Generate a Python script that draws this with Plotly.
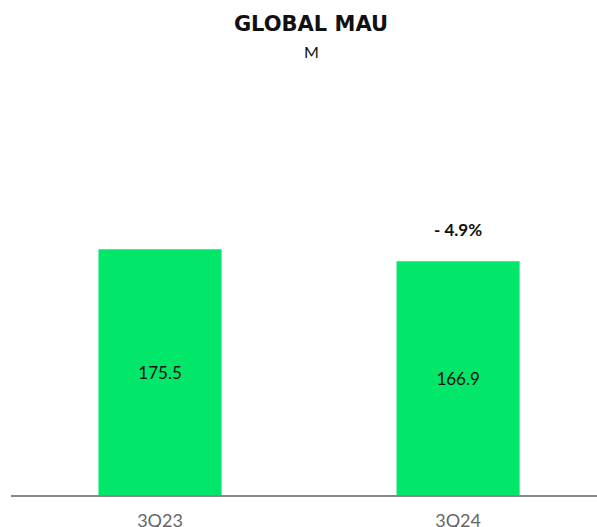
import plotly.graph_objects as go

categories = ["3Q23", "3Q24"]
values = [175.5, 166.9]
value_labels = ["175.5", "166.9"]
change_label = "- 4.9%"

fig = go.Figure()
fig.add_trace(go.Bar(
    x=categories, y=values, width=0.413,
    marker=dict(color="#02E66A", line=dict(width=0)),
    text=value_labels, textposition="inside", insidetextanchor="middle",
    textfont=dict(family="Lato", size=17, color="#111111"),
    hoverinfo="skip",
))
fig.add_annotation(x=categories[1], y=values[1], text="<b>" + change_label + "</b>",
                   showarrow=False, yshift=32, xref="x", yref="y",
                   font=dict(family="Lato", size=17, color="#111111"))
fig.add_annotation(x=(311 - 11) / 586, y=(495 - 52) / 350, xref="paper", yref="paper", text="M",
                   showarrow=False, yanchor="middle",
                   font=dict(family="Lato", size=16, color="#111111"))
fig.update_layout(
    width=597, height=527,
    margin=dict(l=11, r=0, t=145, b=32, autoexpand=False),
    paper_bgcolor="white", plot_bgcolor="white",
    showlegend=False,
    title=dict(text="<b>GLOBAL MAU</b>", x=311 / 597, xanchor="center",
               y=1 - 24 / 527, yanchor="middle",
               font=dict(family="DejaVu Sans", size=21, color="#111111")),
    xaxis=dict(range=[-0.5, 1.466], showgrid=False, showline=True, linecolor="#888888", linewidth=1.5,
               ticks="outside", ticklen=9, tickcolor="rgba(0,0,0,0)", automargin=False,
               tickfont=dict(family="Lato", size=18, color="#666666")),
    yaxis=dict(range=[0, 250], visible=False),
)
fig.write_html("out.html", config={"displayModeBar": False},
               post_script="document.body.style.margin='0';document.body.style.overflow='hidden';")
